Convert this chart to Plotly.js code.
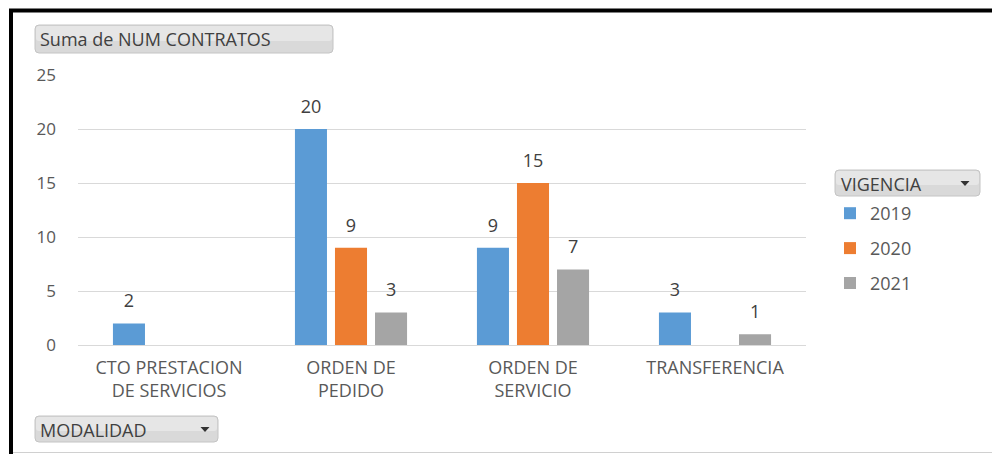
<!DOCTYPE html>
<html><head><meta charset="utf-8">
<script src="https://cdn.plot.ly/plotly-3.0.1.min.js"></script>
<style>html,body{margin:0;padding:0;background:#fff;}#chart{width:992px;height:454px;}</style>
</head><body><div id="chart"></div>
<script>
// ---- data ----
const categories = ['CTO PRESTACION<br>DE SERVICIOS', 'ORDEN DE<br>PEDIDO', 'ORDEN DE<br>SERVICIO', 'TRANSFERENCIA'];
const years = ['2019', '2020', '2021'];
const values2019 = [2, 20, 9, 3];
const values2020 = [null, 9, 15, null];
const values2021 = [null, 3, 7, 1];
const yTickVals = [0, 5, 10, 15, 20, 25];
const titleText = 'Suma de NUM CONTRATOS';
const legendButtonText = 'VIGENCIA';
const axisButtonText = 'MODALIDAD';

// ---- style ----
const seriesColors = ['#5B9BD5', '#ED7D31', '#A5A5A5'];
const FONT = '"Open Sans", Lato, sans-serif';
const W = 992, H = 454;
const M = {l: 78, r: 186, t: 75, b: 109};
const PW = W - M.l - M.r, PH = H - M.t - M.b;
const px = x => (x - M.l) / PW;
const py = y => (H - M.b - y) / PH;

function rrect(x0, y0, x1, y1, r) {
  const P = (x, y) => px(x) + ',' + py(y);
  return 'M' + P(x0 + r, y0) + ' L' + P(x1 - r, y0) + ' Q' + P(x1, y0) + ' ' + P(x1, y0 + r) +
    ' L' + P(x1, y1 - r) + ' Q' + P(x1, y1) + ' ' + P(x1 - r, y1) +
    ' L' + P(x0 + r, y1) + ' Q' + P(x0, y1) + ' ' + P(x0, y1 - r) +
    ' L' + P(x0, y0 + r) + ' Q' + P(x0, y0) + ' ' + P(x0 + r, y0) + ' Z';
}
function tri(cx, cy) {
  const P = (x, y) => px(x) + ',' + py(y);
  return 'M' + P(cx - 4.5, cy - 2) + ' L' + P(cx + 4.5, cy - 2) + ' L' + P(cx, cy + 3) + ' Z';
}
function button(x0, y0, x1, y1) {
  return [{type: 'path', xref: 'paper', yref: 'paper', path: rrect(x0, y0, x1, y1, 4),
    fillcolor: '#d9d9d9', line: {color: '#c4c4c4', width: 1}, layer: 'below'},
    {type: 'path', xref: 'paper', yref: 'paper', path: rrect(x0 + 1, y0 + 1, x1 - 1, (y0 + y1) / 2 + 2, 3),
    fillcolor: '#e6e6e6', line: {width: 0}, layer: 'below'}];
}

const seriesValues = [values2019, values2020, values2021];
const barTraces = years.map((yr, i) => ({
  type: 'bar', name: yr, x: categories, y: seriesValues[i],
  marker: {color: seriesColors[i]},
  legendgroup: 'g' + i, hoverinfo: 'x+y+name'
}));
// value labels: invisible-marker scatter traces grouped like the bars
const labelTraces = years.map((yr, i) => ({
  type: 'scatter', mode: 'markers+text', name: yr + ' labels', x: categories, y: seriesValues[i],
  orientation: 'v', offsetgroup: 'g' + i, alignmentgroup: 'labels',
  marker: {size: 17, opacity: 0, color: seriesColors[i]},
  text: seriesValues[i].map(v => v == null ? '' : String(v)),
  textposition: 'top center', cliponaxis: false,
  textfont: {family: FONT, size: 18, color: '#404040'},
  showlegend: false, hoverinfo: 'skip'
}));

const shapes = [
  ...button(35, 25, 333, 53),
  ...button(835, 170, 980, 196),
  ...button(35, 416, 218, 442),
  {type: 'path', xref: 'paper', yref: 'paper', path: tri(965, 183), fillcolor: '#333', line: {width: 0}},
  {type: 'path', xref: 'paper', yref: 'paper', path: tri(205, 429), fillcolor: '#333', line: {width: 0}},
  // frame
  {type: 'line', xref: 'paper', yref: 'paper', x0: px(9), x1: px(W + 5), y0: py(10.5), y1: py(10.5), line: {color: '#000', width: 4}},
  {type: 'line', xref: 'paper', yref: 'paper', x0: px(11), x1: px(11), y0: py(9), y1: py(H + 5), line: {color: '#000', width: 4}},
  {type: 'line', xref: 'paper', yref: 'paper', x0: px(13), x1: px(W + 5), y0: py(452.5), y1: py(452.5), line: {color: '#d0d0d0', width: 1}}
];

const annotations = [
  {text: titleText, xref: 'paper', yref: 'paper', x: px(38), y: py(39.5), xanchor: 'left', yanchor: 'middle', showarrow: false, font: {family: FONT, size: 18, color: '#404040'}},
  {text: legendButtonText, xref: 'paper', yref: 'paper', x: px(839), y: py(183.5), xanchor: 'left', yanchor: 'middle', showarrow: false, font: {family: FONT, size: 18, color: '#404040'}},
  {text: axisButtonText, xref: 'paper', yref: 'paper', x: px(38), y: py(429.5), xanchor: 'left', yanchor: 'middle', showarrow: false, font: {family: FONT, size: 18, color: '#404040'}}
];

const layout = {
  width: W, height: H, margin: M,
  paper_bgcolor: '#fff', plot_bgcolor: '#fff',
  font: {family: FONT, size: 17, color: '#595959'},
  barmode: 'group', bargap: 0.34, bargroupgap: 0.2,
  scattermode: 'group', scattergap: 0.34,
  xaxis: {type: 'category', showgrid: false, showline: false, ticks: '', ticklabelstandoff: 10,
    tickfont: {family: FONT, size: 18, color: '#595959'}, automargin: false},
  yaxis: {range: [0, 25], tickvals: yTickVals, showgrid: true, gridcolor: '#d9d9d9', gridwidth: 1, zeroline: true, zerolinecolor: '#d9d9d9', zerolinewidth: 1,
    showline: false, ticks: '', tickfont: {family: FONT, size: 17, color: '#595959'}, ticklabelstandoff: 21, automargin: false},
  showlegend: true,
  legend: {x: px(830), y: py(195), xanchor: 'left', yanchor: 'top', traceorder: 'grouped', tracegroupgap: 8.5,
    font: {family: FONT, size: 18, color: '#595959'}, bgcolor: 'rgba(0,0,0,0)'},
  shapes, annotations
};

Plotly.newPlot('chart', [...barTraces, ...labelTraces], layout, {displayModeBar: false, staticPlot: true});
</script>
</body></html>
